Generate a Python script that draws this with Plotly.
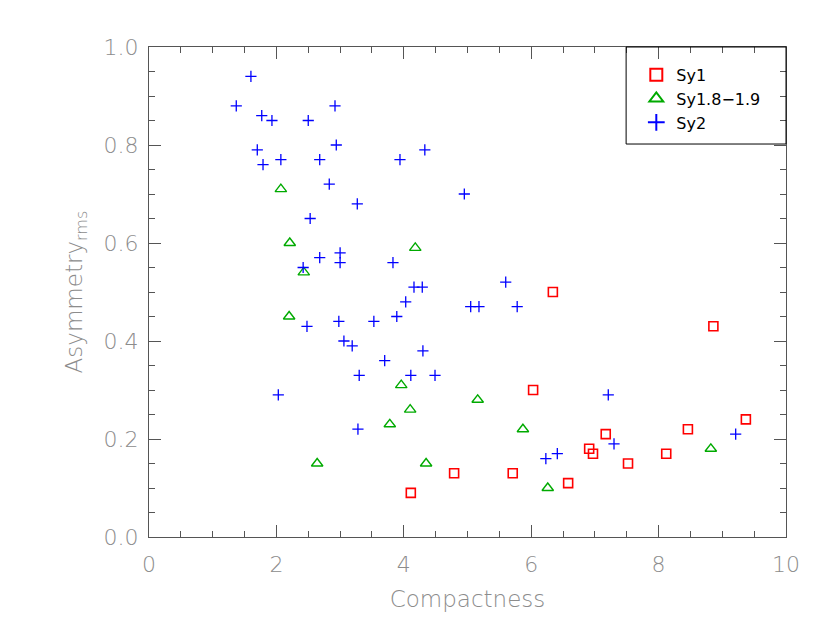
import plotly.graph_objects as go

# Sy1 (red squares)
sy1_x = [6.34, 6.03, 4.11, 4.79, 5.71, 6.58, 6.91, 6.97, 7.17, 8.86, 7.52, 8.12, 8.46, 9.37]
sy1_y = [0.50, 0.30, 0.09, 0.13, 0.13, 0.11, 0.18, 0.17, 0.21, 0.43, 0.15, 0.17, 0.22, 0.24]

# Sy1.8-1.9 (green triangles)
sy18_x = [2.07, 2.21, 2.43, 2.20, 2.64, 4.18, 3.96, 4.10, 3.78, 4.35, 5.16, 5.87, 6.26, 8.82]
sy18_y = [0.71, 0.60, 0.54, 0.45, 0.15, 0.59, 0.31, 0.26, 0.23, 0.15, 0.28, 0.22, 0.10, 0.18]

# Sy2 (blue crosses)
sy2_x = [1.37, 1.60, 1.77, 1.93, 1.70, 1.79, 2.07, 2.50, 2.92, 2.94, 2.68, 2.83,
         3.27, 2.53, 2.68, 2.42, 3.00, 3.00, 2.48, 2.03, 2.98, 3.06, 3.19, 3.30,
         3.28, 3.53, 3.70, 3.83, 3.89, 4.03, 4.16, 4.29, 3.94, 4.33, 4.95, 4.11,
         4.30, 4.49, 5.05, 5.18, 5.60, 5.78, 6.23, 6.41, 7.21, 7.30, 9.21]
sy2_y = [0.88, 0.94, 0.86, 0.85, 0.79, 0.76, 0.77, 0.85, 0.88, 0.80, 0.77, 0.72,
         0.68, 0.65, 0.57, 0.55, 0.58, 0.56, 0.43, 0.29, 0.44, 0.40, 0.39, 0.33,
         0.22, 0.44, 0.36, 0.56, 0.45, 0.48, 0.51, 0.51, 0.77, 0.79, 0.70, 0.33,
         0.38, 0.33, 0.47, 0.47, 0.52, 0.47, 0.16, 0.17, 0.29, 0.19, 0.21]

AXIS_COLOR = "#555555"
LABEL_COLOR = "#8c8c8c"
FONT = "'DejaVu Sans', Lato, sans-serif"

fig = go.Figure()
fig.add_trace(go.Scatter(
    x=sy1_x, y=sy1_y, mode="markers", name="Sy1",
    marker=dict(symbol="square-open", size=9, color="#ff0000",
                line=dict(width=1.6, color="#ff0000")),
))
fig.add_trace(go.Scatter(
    x=sy18_x, y=sy18_y, mode="markers", name="Sy1.8\u22121.9",
    marker=dict(symbol="triangle-up-open", size=10, color="#00aa00",
                line=dict(width=1.4, color="#00aa00")),
))
fig.add_trace(go.Scatter(
    x=sy2_x, y=sy2_y, mode="markers", name="Sy2",
    marker=dict(symbol="cross-thin-open", size=8, color="#0000ff",
                line=dict(width=1.3, color="#0000ff")),
))

axis_common = dict(
    showgrid=False, zeroline=False, showline=True, linecolor=AXIS_COLOR, linewidth=1,
    mirror="allticks", ticks="inside", ticklen=12, tickcolor=AXIS_COLOR, tickwidth=1,
    tickfont=dict(family=FONT, size=22, color=LABEL_COLOR, weight=200),
)

fig.update_xaxes(
    range=[0, 10], tickvals=[0, 2, 4, 6, 8, 10], ticklabelstandoff=8,
    minor=dict(dtick=0.5, ticklen=6, ticks="inside", tickcolor=AXIS_COLOR),
    title=dict(text="Compactness", font=dict(family=FONT, size=23, color=LABEL_COLOR, weight=200), standoff=14),
    **axis_common,
)
fig.update_yaxes(
    range=[0, 1.0], tickvals=[0, 0.2, 0.4, 0.6, 0.8, 1.0], tickformat=".1f", ticklabelstandoff=5,
    minor=dict(dtick=0.05, ticklen=6, ticks="inside", tickcolor=AXIS_COLOR),
    title=dict(text="Asymmetry<sub>rms</sub>", font=dict(family=FONT, size=23, color=LABEL_COLOR, weight=200), standoff=14),
    **axis_common,
)

# legend frame
fig.add_shape(type="rect", xref="paper", yref="paper", x0=0.749, x1=1.0, y0=0.802, y1=1.0,
              line=dict(color="black", width=1), fillcolor="rgba(0,0,0,0)")

fig.update_layout(
    width=830, height=632,
    margin=dict(l=141, r=52, t=39, b=103),
    paper_bgcolor="white", plot_bgcolor="white",
    showlegend=True,
    legend=dict(x=0.765, y=0.978, xanchor="left", yanchor="top",
                bgcolor="rgba(0,0,0,0)", borderwidth=0,
                font=dict(family=FONT, size=16, color="black"),
                itemsizing="constant", tracegroupgap=0),
)

fig.write_html("out.html")
